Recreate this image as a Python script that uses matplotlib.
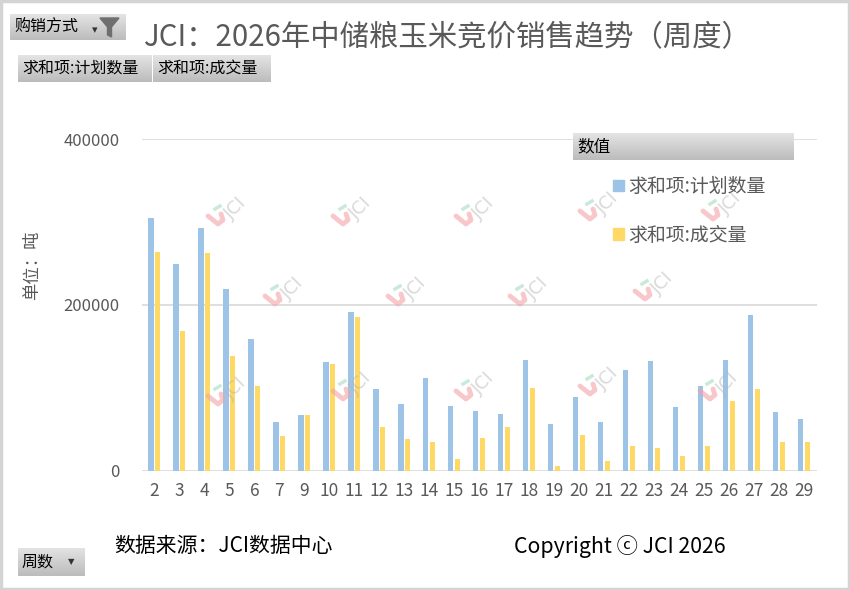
import matplotlib
matplotlib.use("Agg")
import matplotlib.pyplot as plt
from matplotlib.patches import Rectangle, Patch, Polygon
from matplotlib.lines import Line2D
import numpy as np

plt.rcParams['font.family'] = ['Noto Sans CJK SC', 'DejaVu Sans']

# week numbers (week 8 absent in source)
weeks = ['2', '3', '4', '5', '6', '7', '9', '10', '11', '12', '13', '14', '15', '16',
         '17', '18', '19', '20', '21', '22', '23', '24', '25', '26', '27', '28', '29']
plan_qty = [304400, 249000, 292400, 218900, 158600, 58600, 67100, 130900, 191200, 98400,
            80300, 111600, 77900, 71900, 68300, 133300, 56200, 88800, 58600, 121300,
            132100, 76700, 102000, 133300, 187500, 70700, 62200]
deal_qty = [263400, 168300, 262200, 138100, 102000, 41800, 67100, 128500, 185100, 52600,
            38200, 34500, 14100, 39400, 52600, 99600, 5600, 43000, 11600, 29700,
            27300, 17700, 29700, 83900, 98400, 34500, 34500]
series_names = ['求和项:计划数量', '求和项:成交量']

W, H = 850, 590
def fx(x): return x / W
def fy(y): return 1 - y / H

fig = plt.figure(figsize=(8.5, 5.9), dpi=100)
fig.patch.set_facecolor('white')

# outer frame
fig.patches.append(Rectangle((0.001, 0.001), 0.998, 0.997, transform=fig.transFigure,
                             fill=False, edgecolor='#d4d4d4', lw=2.5))

# watermarks (under the plot)
marks = [(230, 215), (355, 215), (478, 215), (602, 210), (725, 210),
         (287, 295), (410, 295), (532, 295), (657, 290),
         (230, 395), (355, 390), (478, 390), (602, 385), (722, 390)]
for cx, cy in marks:
    fig.text(fx(cx + 6), fy(cy - 6), 'JCI', rotation=45, ha='center', va='center',
             fontsize=13, color='#b4b4b4', alpha=0.5, family='DejaVu Sans', zorder=0)
    fig.lines.append(Line2D([fx(cx - 22), fx(cx - 12), fx(cx - 7), fx(cx - 9)],
                            [fy(cy + 1), fy(cy + 9), fy(cy + 5), fy(cy - 1)],
                            transform=fig.transFigure, color='#f4a3a8', lw=3.5,
                            alpha=0.6, solid_capstyle='round', zorder=0))
    fig.lines.append(Line2D([fx(cx - 15), fx(cx - 10)], [fy(cy - 6), fy(cy - 9)],
                            transform=fig.transFigure, color='#a8dcc0', lw=2.5, alpha=0.6,
                            zorder=0))

# main axes
ax = fig.add_axes([fx(142), fy(470.7), fx(816.7) - fx(142), (470.7 - 139) / H])
x = np.arange(len(weeks))
ax.bar(x - 0.14, plan_qty, width=0.21, color='#9dc3e6', zorder=3)
ax.bar(x + 0.14, deal_qty, width=0.20, color='#ffd966', zorder=3)
ax.set_xlim(-0.5, len(weeks) - 0.5)
ax.set_ylim(0, 400000)
ax.set_yticks([0, 200000, 400000])
ax.set_yticklabels(['0', '200000', '400000'])
ax.set_xticks(x)
ax.set_xticklabels(weeks)
for s in ax.spines.values():
    s.set_visible(False)
ax.grid(axis='y', color='#d9d9d9', lw=1.2, zorder=0)
ax.tick_params(axis='y', length=0, pad=16, labelsize=12, labelcolor='#595959')
ax.tick_params(axis='x', length=0, pad=8, labelsize=12.5, labelcolor='#595959')
ax.set_facecolor('none')

# title and labels
fig.text(fx(447), fy(38), 'JCI：2026年中储粮玉米竞价销售趋势（周度）', ha='center', va='center',
         fontsize=21.2, color='#595959')
fig.text(fx(32), fy(265), '单位：吨', rotation=90, ha='center', va='center',
         fontsize=12.5, color='#595959')
fig.text(fx(114), fy(546), '数据来源：JCI数据中心', ha='left', va='center', fontsize=15, color='black')
fig.text(fx(620), fy(547), 'Copyright ⓒ JCI 2026', ha='center', va='center', fontsize=15.3,
         color='black')

# gray pivot buttons
grad = np.linspace(0, 1, 50).reshape(-1, 1)
def button(x0, y0, x1, y1, text, fontsize=11.5, top='#e4e4e4', bottom='#bcbcbd'):
    bax = fig.add_axes([fx(x0), fy(y1), fx(x1) - fx(x0), (y1 - y0) / H])
    cmap = matplotlib.colors.LinearSegmentedColormap.from_list('b', [top, bottom])
    bax.imshow(grad, aspect='auto', cmap=cmap, extent=[0, 1, 0, 1], origin='upper')
    bax.set_axis_off()
    fig.text(fx(x0 + 4), fy((y0 + y1) / 2), text, ha='left', va='center',
             fontsize=fontsize, color='black')
    return bax

button(10, 14, 125, 40, '购销方式')
fig.text(fx(95), fy(30), '▾', ha='center', va='center', fontsize=8, color='#333333',
         family='DejaVu Sans')
fig.patches.append(Polygon([[fx(100), fy(18)], [fx(119), fy(18)], [fx(111.5), fy(27)],
                            [fx(111.5), fy(37)], [fx(107.5), fy(35)], [fx(107.5), fy(27)]],
                           closed=True, transform=fig.transFigure, color='#6f6f6f'))
button(18, 55, 152, 82, '求和项:计划数量')
button(153, 55, 271, 82, '求和项:成交量')
button(573, 133, 794, 160, '数值', fontsize=12)
button(18, 548, 85, 576, '周数')
fig.text(fx(71), fy(562), '▼', ha='center', va='center', fontsize=6, color='#333333',
         family='DejaVu Sans')

# legend
handles = [Patch(color='#9dc3e6'), Patch(color='#ffd966')]
fig.legend(handles, series_names, loc='upper left', bbox_to_anchor=(fx(604), fy(167)),
           frameon=False, fontsize=13.6, labelcolor='#595959', handlelength=0.55,
           handleheight=0.55, handletextpad=0.25, labelspacing=1.45, borderpad=0)

fig.savefig('out.png', dpi=100)
